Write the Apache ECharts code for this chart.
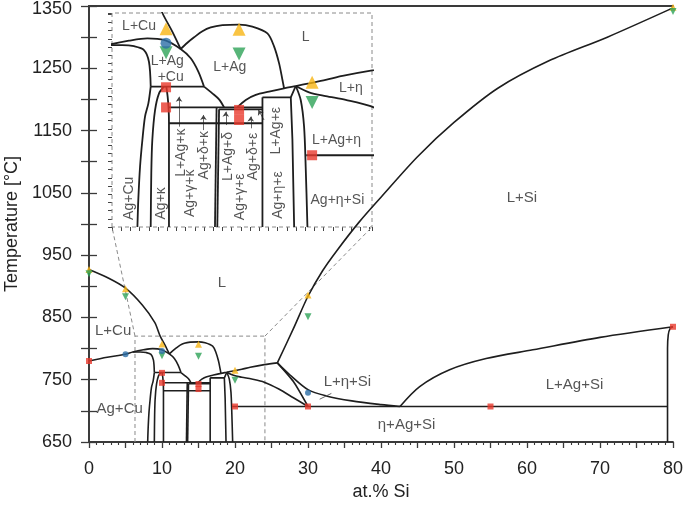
<!DOCTYPE html>
<html><head><meta charset="utf-8">
<script src="https://cdn.jsdelivr.net/npm/echarts/dist/echarts.min.js"></script>
<style>html,body{margin:0;padding:0;background:#fff}#c{width:685px;height:505px}</style>
</head><body><div id="c"></div>
<script>
// ---------- phase boundaries (at.% Si, °C) ----------
const cuLiquidus = [[0,927],[2.5,914],[5,897],[7.3,870],[9.0,842],[9.75,820],[10.43,805.2],[11.0,791.4]];
const agCuLiquidus = [[0,780],[2.5,786],[5,791],[6.0,794.5],[7.46,798],[8.72,799.9],[9.86,798.6],[11.0,791.4],[11.69,784],[12.21,773.4],[12.6,761.5]];
const agCuLiquidusLow = [[12.6,761.5],[13.17,756.2],[13.63,751.4],[13.97,745.1]];
const agCuSolvusTop = [[6.0,794.5],[7.0,794.5],[7.81,793.6],[8.49,790.6],[8.83,781.3],[8.95,761.5]];
const agCuSolvusLow = [[8.95,761.5],[8.79,748.2],[8.56,737.7],[8.38,719.1],[8.22,697.9],[8.1,671.5],[8.04,650]];
const kappaLeft = [[9.86,761.5],[9.52,756.2],[9.25,743],[9.06,719.1],[8.99,692.6],[8.95,650]];
const kappaRight = [[10.02,761.5],[10.11,753.5],[10.18,743],[10.2,732.4],[10.2,650]];
const agDome = [[11.0,791.4],[11.46,796.4],[11.92,800.7],[12.49,805.5],[13.06,808.5],[13.86,810.3],[14.99,810.8],[15.91,809.2],[16.94,803.8],[17.4,793.3],[17.74,780],[17.97,766.8],[18.08,760.2]];
const etaLiquidus = [[14.88,745.1],[15.46,750.9],[16.14,754.9],[17.05,757.5],[18.08,760.2],[18.88,762],[19.79,764.1],[20.93,766.8],[22.08,770],[24.02,774.2],[25.8,777]];
const etaBoundary = [[18.88,762],[19.79,757],[20.93,754],[22.3,751],[24.0,746],[26,735],[28,721],[30,707]];
const etaSolvus = [[18.88,762],[19.22,750.9],[19.45,729.7],[19.56,697.9],[19.68,650]];
const epsBoxTop = [[16.6,753],[18.54,753],[18.88,762]];
const epsBoxRight = [[18.54,753],[18.65,720],[18.77,650]];
const epsBoxLeft = [[16.6,753],[16.6,650]];
const h761 = [[8.95,761.5],[12.6,761.5]];
const h745 = [[10.16,745.1],[16.6,745.1]];
const h743 = [[13.63,743.5],[16.6,743.5]];
const h732 = [[10.2,732.4],[16.6,732.4]];
const thinLeft = [[13.46,745.1],[13.35,650]];
const thinRight = [[13.63,743.5],[13.51,650]];
const pLine = [[25.8,777],[28,747],[30,707]];
const siEtaCurve = [[25.8,777],[27.5,758],[30,734],[32.5,724],[36,716],[40,710],[42.6,707]];
const h707 = [[19.6,707],[79.25,707]];
const siEutectic = [[42.6,707],[45.3,739],[49.4,766],[54.4,784],[60.8,798],[70,818],[80,835]];
const siSolvus = [[79.25,650],[79.25,800],[79.35,822],[79.6,832],[80,835]];
const siLiquidus = [[25.8,777],[28,832],[30,884],[32,925],[34,958],[37,1003],[40,1043],[45,1108],[50,1163],[56,1218],[63,1262],[71,1300],[80,1347]];

// ---------- measured points ----------
const redSquares = [[0,780],[10,761],[10,745],[15,743],[15,735],[20,707],[30,707],[55,707],[80,835]];
const yellowUp = [[0,927],[5,896],[10,807.5],[15,807],[20,765],[30,886],[80,1348]];
const greenDown = [[0,920],[5,883],[10,788.5],[15,787.5],[20,749],[30,851],[80,1341]];
const blueDots = [[5,791],[10,796],[30,729]];

// ---------- labels ----------
const mainLabels = [['L+Cu',3.3,829],['Ag+Cu',4.2,704],['L',18.2,905],['L+Si',59.3,1042],['L+η+Si',35.4,747],['L+Ag+Si',66.5,741],['η+Ag+Si',43.5,677]];
const mainLeader = [[33.2,728],[31.6,718.7]];
const insetLabels = [['L+Cu',8.15,809.7],['L+Ag',10.09,782],['+Cu',10.32,769],['L+Ag',14.36,776.6],['L',19.56,800.7],['L+η',22.65,760],['L+Ag+η',21.67,719],['Ag+η+Si',21.73,671.5]];
const insetRotLabels = [['Ag+Cu',7.46,672.8],['Ag+κ',9.68,668.8],['L+Ag+κ',11.0,709],['Ag+γ+κ',11.64,676.8],['Ag+δ+κ',12.6,707],['L+Ag+δ',14.25,706],['Ag+γ+ε',15.04,674],['Ag+δ+ε',15.96,706],['L+Ag+ε',17.56,726.5],['Ag+η+ε',17.67,675.4]];
const insetArrows = [[[10.89,729.7],[10.89,753.5]],[[12.56,727],[12.56,739]],[[14.09,731],[14.09,741.6]],[[15.8,728.4],[15.8,737.7]],[[16.71,735],[16.32,743]]];

// ---------- zoom window ----------
const zoomX = [6.3, 24.1];
const zoomT = [650, 820];
const mainX = [0, 80];
const mainT = [650, 1350];

const FONT = '"Liberation Sans", Arial, Helvetica, sans-serif';
const chart = echarts.init(document.getElementById('c'));

const boundaries = [
  [cuLiquidus,0.3],[agCuLiquidus,0.3],[agCuLiquidusLow,0.3],[agCuSolvusTop,0.3],[agCuSolvusLow,0.3],
  [kappaLeft,0.3],[kappaRight,0.2],[agDome,0.3],[etaLiquidus,0.3],[etaBoundary,0.3],[etaSolvus,0.3],
  [epsBoxTop,0],[epsBoxRight,0],[epsBoxLeft,0],[h761,0],[h745,0],[h743,0],[h732,0],[thinLeft,0],[thinRight,0],
  [pLine,0.2],[siEtaCurve,0.3],[h707,0],[siEutectic,0.3],[siSolvus,0.3],[siLiquidus,0.3]
];

const series = [];
boundaries.forEach(([d, sm]) => {
  series.push({type:'line', xAxisIndex:0, yAxisIndex:0, data:d, symbol:'none', smooth:sm, silent:true,
    lineStyle:{color:'#1e1e1e', width:1.6}, z:3});
  series.push({type:'line', xAxisIndex:2, yAxisIndex:2, data:d, symbol:'none', smooth:sm, silent:true,
    lineStyle:{color:'#1e1e1e', width:1.8}, z:3});
});

// dashed zoom rectangle in the main plot
series.push({type:'line', xAxisIndex:0, yAxisIndex:0, symbol:'none', silent:true, clip:false,
  data:[[zoomX[0],zoomT[0]],[zoomX[0],zoomT[1]],[zoomX[1],zoomT[1]],[zoomX[1],zoomT[0]]],
  lineStyle:{color:'#8a8a8a', width:1, type:[4,3]}, z:2});
// inset frame
series.push({type:'line', xAxisIndex:2, yAxisIndex:2, symbol:'none', silent:true, clip:false,
  data:[[zoomX[0],zoomT[0]],[zoomX[0],zoomT[1]],[zoomX[1],zoomT[1]],[zoomX[1],zoomT[0]],[zoomX[0],zoomT[0]]],
  lineStyle:{color:'#8a8a8a', width:1, type:[4,3]}, z:2});
// leader line main
series.push({type:'line', xAxisIndex:0, yAxisIndex:0, symbol:'none', silent:true, data:mainLeader,
  lineStyle:{color:'#555', width:0.9}, z:3});
// inset arrows
series.push({type:'lines', coordinateSystem:'cartesian2d', xAxisIndex:2, yAxisIndex:2, silent:true,
  symbol:['none','arrow'], symbolSize:5,
  data: insetArrows.map(c => ({coords:c})),
  lineStyle:{color:'#444', width:0.8, opacity:1}, z:3});

const inZoom = p => p[0] >= zoomX[0] && p[0] <= zoomX[1] && p[1] >= zoomT[0] && p[1] <= zoomT[1];
const markerDefs = [
  [redSquares, 'rect', '#e8382c', 0, 6, 10],
  [yellowUp, 'triangle', '#f7b514', 0, 7, 13],
  [greenDown, 'triangle', '#2ea358', 180, 7, 13],
  [blueDots, 'circle', '#2c6ea6', 0, 6, 11]
];
markerDefs.forEach(([d, sym, col, rot, s1, s2]) => {
  series.push({type:'scatter', xAxisIndex:0, yAxisIndex:0, data:d, symbol:sym, symbolRotate:rot,
    symbolSize:s1, itemStyle:{color:col}, silent:true, z:5});
  series.push({type:'scatter', xAxisIndex:2, yAxisIndex:2, data:d.filter(inZoom), symbol:sym, symbolRotate:rot,
    symbolSize:s2, itemStyle:{color:col}, silent:true, z:5});
});

function labelSeries(arr, xi, yi, size, rot) {
  return {type:'scatter', xAxisIndex:xi, yAxisIndex:yi, symbolSize:1, silent:true, z:6,
    itemStyle:{color:'rgba(0,0,0,0)'},
    data: arr.map(a => ({name:a[0], value:[a[1], a[2]]})),
    label:{show:true, position:'inside', formatter:'{b}', color:'#2a2a2a', fontSize:size, fontFamily:FONT, rotate:rot}};
}
series.push(labelSeries(mainLabels, 0, 0, 15, 0));
series.push(labelSeries(insetLabels, 2, 2, 14, 0));
series.push(labelSeries(insetRotLabels, 2, 2, 14, 90));

const axisColor = '#3a3a3a';
const option = {
  animation:false,
  backgroundColor:'#ffffff',
  textStyle:{fontFamily:FONT},
  grid:[
    {left:89, top:6, width:584, height:436, containLabel:false, outerBoundsMode:'none'},
    {left:112, top:13, width:260, height:214, containLabel:false, outerBoundsMode:'none'}
  ],
  xAxis:[
    {gridIndex:0, type:'value', min:mainX[0], max:mainX[1], interval:5, position:'bottom',
     axisLine:{lineStyle:{color:axisColor, width:1.8}},
     axisTick:{length:6, lineStyle:{color:axisColor, width:1.3}},
     minorTick:{show:true, splitNumber:5, length:3, lineStyle:{color:axisColor, width:1.1}},
     axisLabel:{formatter:v => (v % 10 === 0 ? String(v) : ''), fontSize:18, color:'#222', margin:18, fontFamily:FONT},
     splitLine:{show:false},
     name:'at.% Si', nameLocation:'middle', nameGap:35, nameTextStyle:{fontSize:18, color:'#222', fontFamily:FONT}},
    {gridIndex:0, type:'value', min:mainX[0], max:mainX[1], position:'top',
     axisLine:{lineStyle:{color:axisColor, width:1.8}}, axisTick:{show:false}, axisLabel:{show:false}, splitLine:{show:false}},
    {gridIndex:1, type:'value', min:zoomX[0], max:zoomX[1], interval:0.63, position:'bottom',
     axisLine:{show:false}, axisTick:{show:true, length:4, lineStyle:{color:'#444', width:1}},
     axisLabel:{show:false}, splitLine:{show:false}}
  ],
  yAxis:[
    {gridIndex:0, type:'value', min:mainT[0], max:mainT[1], interval:50, position:'left',
     axisLine:{lineStyle:{color:axisColor, width:1.8}},
     axisTick:{length:8, lineStyle:{color:axisColor, width:1.3}},
     axisLabel:{formatter:v => (v === mainT[1] ? '{t|' + v + '}' : ((v - 650) % 100 === 0 ? String(v) : '')),
       rich:{t:{fontSize:18, color:'#222', fontFamily:FONT, padding:[6,0,0,0]}},
       fontSize:18, color:'#222', margin:17, fontFamily:FONT},
     splitLine:{show:false},
     name:'Temperature [°C]', nameLocation:'middle', nameGap:66, nameTextStyle:{fontSize:18, color:'#222', fontFamily:FONT}},
    {gridIndex:0, type:'value', min:mainT[0], max:mainT[1], interval:50, position:'right',
     axisLine:{lineStyle:{color:axisColor, width:1.8}},
     axisTick:{length:8, lineStyle:{color:axisColor, width:1.3}},
     axisLabel:{show:false}, splitLine:{show:false}},
    {gridIndex:1, type:'value', min:zoomT[0], max:zoomT[1], interval:6.5, position:'left',
     axisLine:{show:false}, axisTick:{show:true, length:4, lineStyle:{color:'#444', width:1}},
     axisLabel:{show:false}, splitLine:{show:false}}
  ],
  series: series
};
chart.setOption(option);

// dashed connectors between the zoom window and the inset
const a1 = chart.convertToPixel({xAxisIndex:0, yAxisIndex:0}, [zoomX[0], zoomT[1]]);
const b1 = chart.convertToPixel({xAxisIndex:2, yAxisIndex:2}, [zoomX[0], zoomT[0]]);
const a2 = chart.convertToPixel({xAxisIndex:0, yAxisIndex:0}, [zoomX[1], zoomT[1]]);
const b2 = chart.convertToPixel({xAxisIndex:2, yAxisIndex:2}, [zoomX[1], zoomT[0]]);
const dashStyle = {stroke:'#8a8a8a', lineWidth:1, lineDash:[4,3]};
chart.setOption({graphic:[
  {type:'line', shape:{x1:a1[0], y1:a1[1], x2:b1[0], y2:b1[1]}, style:dashStyle, silent:true, z:2},
  {type:'line', shape:{x1:a2[0], y1:a2[1], x2:b2[0], y2:b2[1]}, style:dashStyle, silent:true, z:2}
]});
</script></body></html>
